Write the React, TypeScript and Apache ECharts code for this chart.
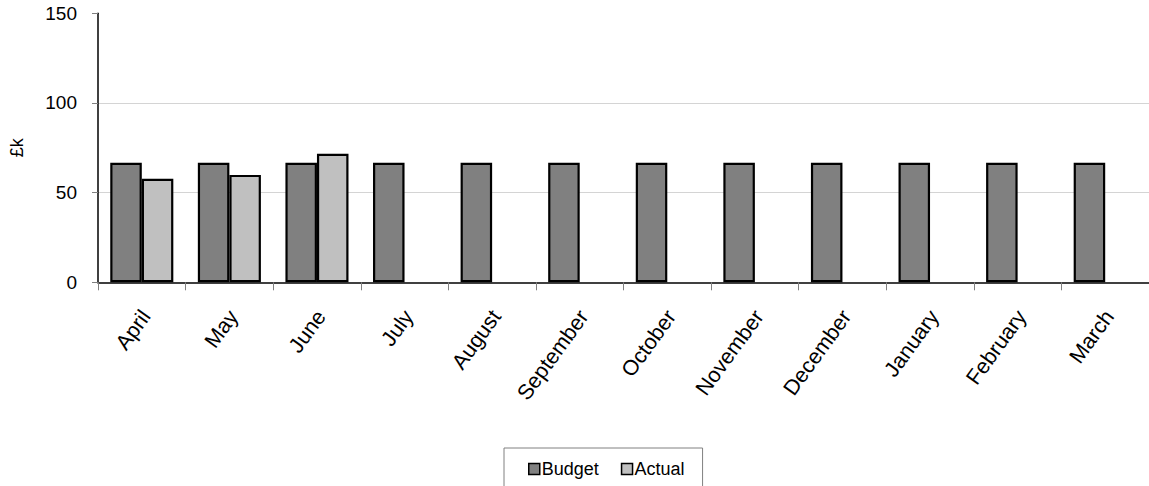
import React, { useEffect, useRef } from "react";
import * as echarts from "echarts";

const months = [
  "April", "May", "June", "July", "August", "September",
  "October", "November", "December", "January", "February", "March",
];
const budget = [66.7, 66.7, 66.7, 66.7, 66.7, 66.7, 66.7, 66.7, 66.7, 66.7, 66.7, 66.7];
const actual = [57.7, 59.9, 71.7];
const yTicks = { min: 0, max: 150, interval: 50 };

const FONT = "'Liberation Sans', Arial, sans-serif";

export default function App() {
  const ref = useRef<HTMLDivElement>(null);

  useEffect(() => {
    if (!ref.current) return;
    const chart = echarts.init(ref.current, undefined, { renderer: "svg" });
    chart.setOption({
      animation: false,
      textStyle: { fontFamily: FONT, color: "#000" },
      grid: { left: 97, right: -8, top: 13.3, bottom: 203.7, containLabel: false },
      legend: {
        left: 504,
        top: 448,
        orient: "horizontal",
        borderColor: "#808080",
        borderWidth: 1,
        padding: [12, 18, 30, 24],
        itemGap: 22,
        itemWidth: 11,
        itemHeight: 11,
        icon: "rect",
        itemStyle: { borderColor: "#000", borderWidth: 1.5 },
        textStyle: { fontFamily: FONT, fontSize: 18, color: "#000", padding: [0, 0, 0, -3] },
        data: ["Budget", "Actual"],
      },
      xAxis: {
        type: "category",
        data: months,
        boundaryGap: true,
        axisLine: { lineStyle: { color: "#000", width: 1.5 } },
        axisTick: { show: true, length: 8, lineStyle: { color: "#808080" } },
        axisLabel: {
          interval: 0,
          rotate: 54,
          margin: 36,
          padding: [0, -7, 0, 0],
          fontSize: 21.5,
          fontFamily: FONT,
          color: "#000",
        },
        splitLine: { show: false },
      },
      yAxis: {
        type: "value",
        min: yTicks.min,
        max: yTicks.max,
        interval: yTicks.interval,
        name: "£k",
        nameLocation: "middle",
        nameRotate: 90,
        nameGap: 72,
        nameTextStyle: { fontFamily: FONT, fontSize: 18, color: "#000" },
        axisLine: { show: true, lineStyle: { color: "#000", width: 1.5 } },
        axisTick: { show: true, length: 6, lineStyle: { color: "#808080" } },
        axisLabel: { margin: 21, fontSize: 19, fontFamily: FONT, color: "#000" },
        splitLine: {
          show: true,
          showMinLine: false,
          showMaxLine: false,
          lineStyle: { color: "#d4d4d4", width: 1 },
        },
      },
      series: [
        {
          name: "Budget",
          type: "bar",
          data: budget,
          barGap: "0%",
          barCategoryGap: "28%",
          itemStyle: { color: "#808080", borderColor: "#000", borderWidth: 2.2 },
        },
        {
          name: "Actual",
          type: "bar",
          data: actual,
          itemStyle: { color: "#c0c0c0", borderColor: "#000", borderWidth: 2.2 },
        },
      ],
    });
    return () => chart.dispose();
  }, []);

  return (
    <div
      ref={ref}
      style={{ position: "absolute", left: 0, top: 0, width: 1149, height: 486, background: "#fff" }}
    />
  );
}
